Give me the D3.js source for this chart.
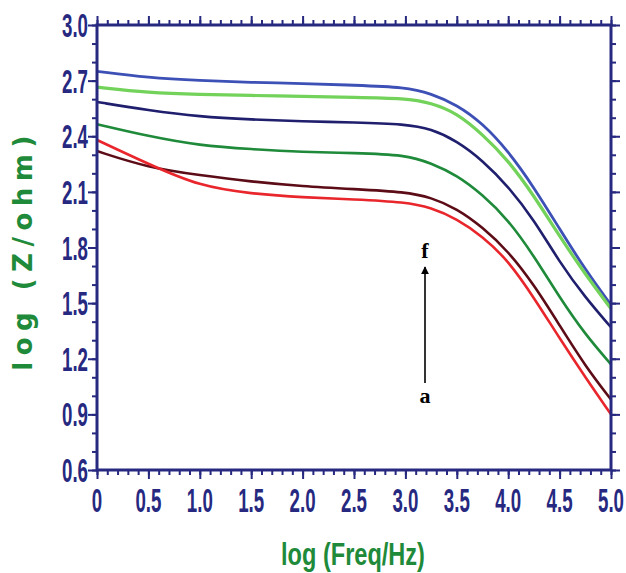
<!DOCTYPE html>
<html>
<head>
<meta charset="utf-8">
<script src="https://cdn.jsdelivr.net/npm/d3@7"></script>
<style>
  body { margin: 0; background: #fff; }
  svg { display: block; }
</style>
</head>
<body>
<script>
// log(Freq/Hz) sample points shared by all curves
const freq = [0, 0.5, 1.0, 1.5, 2.0, 2.5, 3.0, 3.25, 3.5, 3.75, 4.0, 4.25, 4.5, 4.75, 5.0];

// log(Z/ohm) values, curve a (bottom) .. f (top)
const seriesA = [2.32, 2.23, 2.19, 2.155, 2.13, 2.115, 2.10, 2.07, 2.01, 1.91, 1.78, 1.60, 1.38, 1.16, 0.98];
const seriesB = [2.38, 2.25, 2.13, 2.09, 2.07, 2.06, 2.045, 2.015, 1.955, 1.86, 1.73, 1.53, 1.31, 1.10, 0.90];
const seriesC = [2.465, 2.40, 2.35, 2.33, 2.315, 2.31, 2.30, 2.255, 2.19, 2.085, 1.95, 1.755, 1.53, 1.33, 1.17];
const seriesD = [2.585, 2.54, 2.505, 2.49, 2.48, 2.475, 2.465, 2.44, 2.375, 2.27, 2.13, 1.95, 1.72, 1.53, 1.37];
const seriesE = [2.665, 2.635, 2.625, 2.62, 2.615, 2.61, 2.605, 2.58, 2.525, 2.41, 2.27, 2.08, 1.86, 1.655, 1.47];
const seriesF = [2.75, 2.715, 2.70, 2.69, 2.685, 2.675, 2.665, 2.63, 2.57, 2.47, 2.32, 2.125, 1.90, 1.68, 1.49];

const curves = [
  { name: "a", values: seriesA, color: "#5c0c16", w: 2.6 },
  { name: "b", values: seriesB, color: "#e8262c", w: 2.6 },
  { name: "c", values: seriesC, color: "#1e8a3a", w: 2.6 },
  { name: "d", values: seriesD, color: "#1f1f6e", w: 2.6 },
  { name: "f", values: seriesF, color: "#3d50b6", w: 2.8 },
  { name: "e", values: seriesE, color: "#72d25a", w: 3.2 }
];

const xTicks = [0, 0.5, 1.0, 1.5, 2.0, 2.5, 3.0, 3.5, 4.0, 4.5, 5.0];
const xTickLabels = ["0", "0.5", "1.0", "1.5", "2.0", "2.5", "3.0", "3.5", "4.0", "4.5", "5.0"];
const yTicks = [0.6, 0.9, 1.2, 1.5, 1.8, 2.1, 2.4, 2.7, 3.0];
const yTickLabels = ["0.6", "0.9", "1.2", "1.5", "1.8", "2.1", "2.4", "2.7", "3.0"];

const W = 626, H = 573;
const margin = { top: 25, right: 15, bottom: 103, left: 97 };
const width = W - margin.left - margin.right,
      height = H - margin.top - margin.bottom;

const axisColor = "#26297f";
const labelGreen = "#1e8a3a";

const svg = d3.select("body").append("svg")
  .attr("width", W)
  .attr("height", H);

const g = svg.append("g")
  .attr("transform", `translate(${margin.left},${margin.top})`);

const x = d3.scaleLinear().domain([0, 5]).range([0, width]);
const y = d3.scaleLinear().domain([0.6, 3.0]).range([height, 0]);

const minorX = d3.range(0, 5.0001, 0.1);
const minorY = d3.range(0.6, 3.0001, 0.1);

// tick marks: minor and major, all pointing outward
function tickLayer(axisFn, scale, vals, size, tr) {
  const a = g.append("g")
    .attr("transform", tr)
    .call(axisFn(scale).tickValues(vals).tickSize(size).tickFormat(""));
  a.select(".domain").remove();
  a.selectAll("line").attr("stroke", axisColor).attr("stroke-width", 2);
}
tickLayer(d3.axisBottom, x, minorX, 5, `translate(0,${height})`);
tickLayer(d3.axisBottom, x, xTicks, 9, `translate(0,${height})`);
tickLayer(d3.axisTop, x, minorX, 5, "translate(0,0)");
tickLayer(d3.axisTop, x, xTicks, 9, "translate(0,0)");
tickLayer(d3.axisLeft, y, minorY, 5, "translate(0,0)");
tickLayer(d3.axisLeft, y, yTicks, 9, "translate(0,0)");
tickLayer(d3.axisRight, y, minorY, 5, `translate(${width},0)`);
tickLayer(d3.axisRight, y, yTicks, 9, `translate(${width},0)`);

// curves
const line = d3.line()
  .x((d, i) => x(freq[i]))
  .y(d => y(d))
  .curve(d3.curveBasis);

g.selectAll(".curve")
  .data(curves)
  .enter().append("path")
  .attr("class", "curve")
  .attr("fill", "none")
  .attr("stroke", d => d.color)
  .attr("stroke-width", d => d.w)
  .attr("stroke-linejoin", "round")
  .attr("d", d => line(d.values));

// frame
g.append("rect")
  .attr("width", width)
  .attr("height", height)
  .attr("fill", "none")
  .attr("stroke", axisColor)
  .attr("stroke-width", 3);

// tick labels (condensed look via horizontal scale)
const tickFont = "'Liberation Sans', Arial, sans-serif";
g.selectAll(".ylab")
  .data(yTicks)
  .enter().append("text")
  .attr("class", "ylab")
  .attr("transform", d => `translate(-9,${y(d) + 12}) scale(0.55,1)`)
  .attr("text-anchor", "end")
  .attr("font-family", tickFont)
  .attr("font-weight", "bold")
  .attr("font-size", 34)
  .attr("fill", axisColor)
  .text((d, i) => yTickLabels[i]);

g.selectAll(".xlab")
  .data(xTicks)
  .enter().append("text")
  .attr("class", "xlab")
  .attr("transform", d => `translate(${x(d)},${height + 42}) scale(0.55,1)`)
  .attr("text-anchor", "middle")
  .attr("font-family", tickFont)
  .attr("font-weight", "bold")
  .attr("font-size", 34)
  .attr("fill", axisColor)
  .text((d, i) => xTickLabels[i]);

// axis titles
svg.append("text")
  .attr("transform", `translate(353,565) scale(0.76,1)`)
  .attr("text-anchor", "middle")
  .attr("font-family", tickFont)
  .attr("font-weight", "bold")
  .attr("font-size", 31)
  .attr("fill", labelGreen)
  .text("log (Freq/Hz)");

svg.append("text")
  .attr("transform", "translate(32,250) rotate(-90)")
  .attr("text-anchor", "middle")
  .attr("font-family", "'DejaVu Sans', Verdana, sans-serif")
  .attr("font-weight", "bold")
  .attr("font-size", 26)
  .attr("letter-spacing", 6.5)
  .attr("fill", labelGreen)
  .text("log (Z/ohm)");

// arrow a -> f
svg.append("defs").append("marker")
  .attr("id", "head")
  .attr("viewBox", "0 0 10 10")
  .attr("refX", 9).attr("refY", 5)
  .attr("markerWidth", 5).attr("markerHeight", 5)
  .attr("orient", "auto")
  .append("path")
  .attr("d", "M0,0 L10,5 L0,10 z")
  .attr("fill", "#000");

svg.append("line")
  .attr("x1", 425).attr("y1", 383)
  .attr("x2", 425).attr("y2", 267)
  .attr("stroke", "#000")
  .attr("stroke-width", 1.6)
  .attr("marker-end", "url(#head)");

svg.append("text")
  .attr("x", 425).attr("y", 258)
  .attr("text-anchor", "middle")
  .attr("font-family", "'Liberation Serif', 'Times New Roman', serif")
  .attr("font-weight", "bold")
  .attr("font-size", 22)
  .text("f");

svg.append("text")
  .attr("x", 425).attr("y", 403)
  .attr("text-anchor", "middle")
  .attr("font-family", "'Liberation Serif', 'Times New Roman', serif")
  .attr("font-weight", "bold")
  .attr("font-size", 22)
  .text("a");
</script>
</body>
</html>
